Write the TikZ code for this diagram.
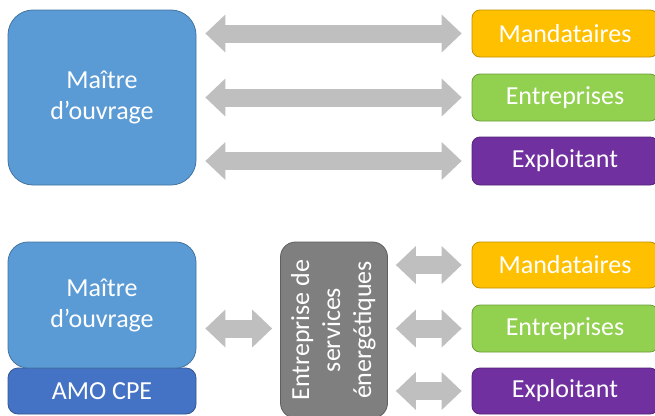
\documentclass[tikz,border=0pt]{standalone}
\usepackage{fontspec}
\setmainfont{Carlito}
\usetikzlibrary{arrows.meta}
\definecolor{mblue}{HTML}{5B9BD5}
\definecolor{amoblue}{HTML}{4472C4}
\definecolor{morange}{HTML}{FFC000}
\definecolor{mgreen}{HTML}{92D050}
\definecolor{mpurple}{HTML}{7030A0}
\definecolor{mgray}{HTML}{7F7F7F}
\definecolor{arrgray}{HTML}{BFBFBF}
\begin{document}
\begin{tikzpicture}[x=1pt,y=-1pt,
  box/.style={draw=#1!75!black, fill=#1, text=white, line width=0.8pt,
    font=\fontsize{26}{31}\selectfont, align=center, inner sep=0pt,
    rounded corners=8pt, minimum width=186pt},
  bigarrow/.style={draw=arrgray, line width=18pt,
    {Triangle[length=20pt,width=38pt,line width=0pt]}-{Triangle[length=20pt,width=38pt,line width=0pt]}}]
\clip (0,0) rectangle (655,415);
\fill[white] (0,0) rectangle (655,415);
% top part
\node[box=mblue, minimum width=188pt, minimum height=175pt, rounded corners=25pt] (mo1) at (102,97.5) {Maître\\d’ouvrage};
\node[box=morange, minimum height=47pt] (man1) at (565,33.5) {Mandataires};
\node[box=mgreen, minimum height=47pt] (ent1) at (565,97.5) {Entreprises};
\node[box=mpurple, minimum height=48pt] (exp1) at (565,161) {Exploitant};
\foreach \t in {man1,ent1,exp1}
  \draw[bigarrow, shorten <=9pt, shorten >=10pt] (mo1.east |- \t.west) -- (\t.west);
% bottom part
\node[box=amoblue, minimum width=188pt, minimum height=46pt, rounded corners=10pt] (amo) at (102,391) {AMO CPE};
\node[box=mblue, minimum width=188pt, minimum height=126pt, rounded corners=20pt] (mo2) at (102,305) {Maître\\d’ouvrage};
\node[box=mgray, minimum width=107pt, minimum height=176pt, rounded corners=15pt] (ese) at (334,330)
  {\rotatebox{90}{\begin{tabular}{@{}c@{}}Entreprise de\\services\\énergétiques\end{tabular}}};
\node[box=morange, minimum height=46pt] (man2) at (565,265) {Mandataires};
\node[box=mgreen, minimum height=47pt] (ent2) at (565,328.5) {Entreprises};
\node[box=mpurple, minimum height=46pt] (exp2) at (565,391) {Exploitant};
\draw[bigarrow, shorten <=9pt, shorten >=8pt] (mo2.east |- ent2.west) -- (ese.west |- ent2.west);
\foreach \t in {man2,ent2,exp2}
  \draw[bigarrow, shorten <=8pt, shorten >=10pt] (ese.east |- \t.west) -- (\t.west);
\end{tikzpicture}
\end{document}
